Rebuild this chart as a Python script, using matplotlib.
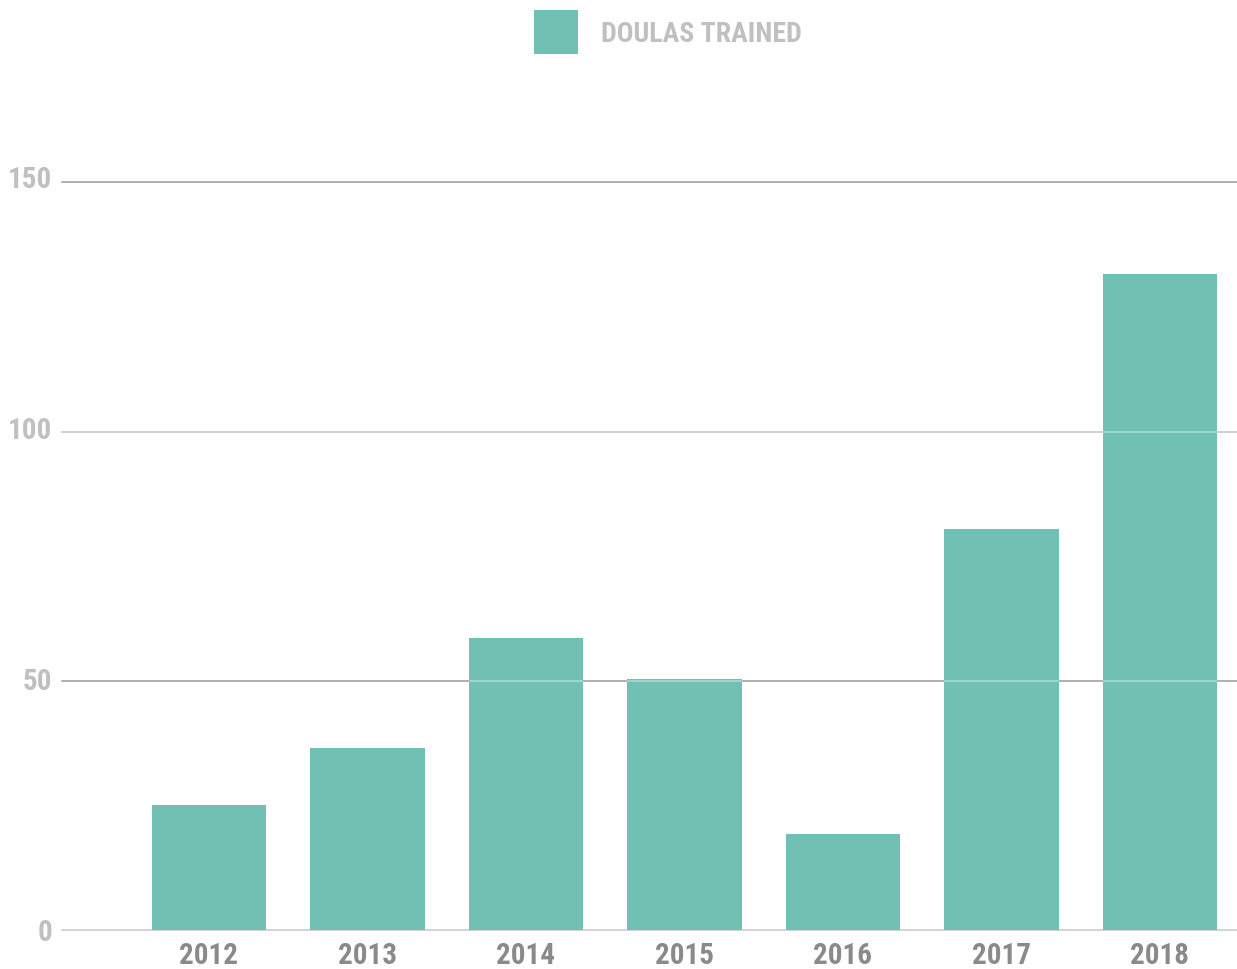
import matplotlib
matplotlib.use("Agg")
import matplotlib.pyplot as plt
from matplotlib import font_manager as fm
from matplotlib.patches import Rectangle
from matplotlib.transforms import ScaledTranslation

years = ["2012", "2013", "2014", "2015", "2016", "2017", "2018"]
doulas_trained = [25.1, 36.5, 58.6, 50.4, 19.3, 80.4, 131.6]
y_ticks = [0, 50, 100, 150]
legend_label = "DOULAS TRAINED"

names = {f.name for f in fm.fontManager.ttflist}
fam = [n for n in ["Roboto Condensed", "Liberation Sans Narrow", "DejaVu Sans"] if n in names] or ["DejaVu Sans"]
plt.rcParams['font.family'] = fam
stretch = 'normal' if fam[0] != "DejaVu Sans" else 'condensed'

bar_color = "#70c1b3"
W, H = 1237, 969
fig = plt.figure(figsize=(W / 100, H / 100), dpi=100)
ax = fig.add_axes([62 / W, 1 - 930 / H, 1 - 62 / W, (930 - 182.3) / H])

x = list(range(len(years)))
bw = 0.72
ax.bar(x, doulas_trained, width=bw, color=bar_color, zorder=2)
ax.set_xlim(-0.927, 6.486)
ax.set_ylim(0, 150)

grid_colors = {0: "#c8c8c8", 50: "#9a9a9a", 100: "#c4c4c4", 150: "#9a9a9a"}
for t in y_ticks:
    ax.axhline(t, color=grid_colors[t], lw=1.1, zorder=1, clip_on=False)
    for xi, v in zip(x, doulas_trained):
        if v > t and t > 0:
            ax.hlines(t, xi - bw / 2, xi + bw / 2, color="#a9ddd3", lw=1.1, zorder=3)

for s in ax.spines.values():
    s.set_visible(False)
ax.tick_params(length=0)
ax.set_yticks(y_ticks)
ax.set_yticklabels([str(t) for t in y_ticks], color="#c0c0c0", fontsize=21,
                   fontweight='bold', fontstretch=stretch)
ax.tick_params(axis='y', pad=7)
for t, lab in zip(y_ticks, ax.get_yticklabels()):
    lab.set_transform(lab.get_transform() + ScaledTranslation(0, (t / 150) * 5 / 100, fig.dpi_scale_trans))
ax.set_xticks(x)
ax.set_xticklabels(years, color="#8a8a8a", fontsize=21, fontweight='bold', fontstretch=stretch)
ax.tick_params(axis='x', pad=9)

# legend
fig.patches.append(Rectangle((534 / W, 1 - 54 / H), 44 / W, 44 / H, transform=fig.transFigure,
                             facecolor=bar_color, edgecolor='none'))
fig.text(601 / W, 1 - 35 / H, legend_label, color="#c0c0c0", fontsize=20, fontweight='bold',
         fontstretch=stretch, ha='left', va='center')

fig.savefig("out.png", dpi=100)
